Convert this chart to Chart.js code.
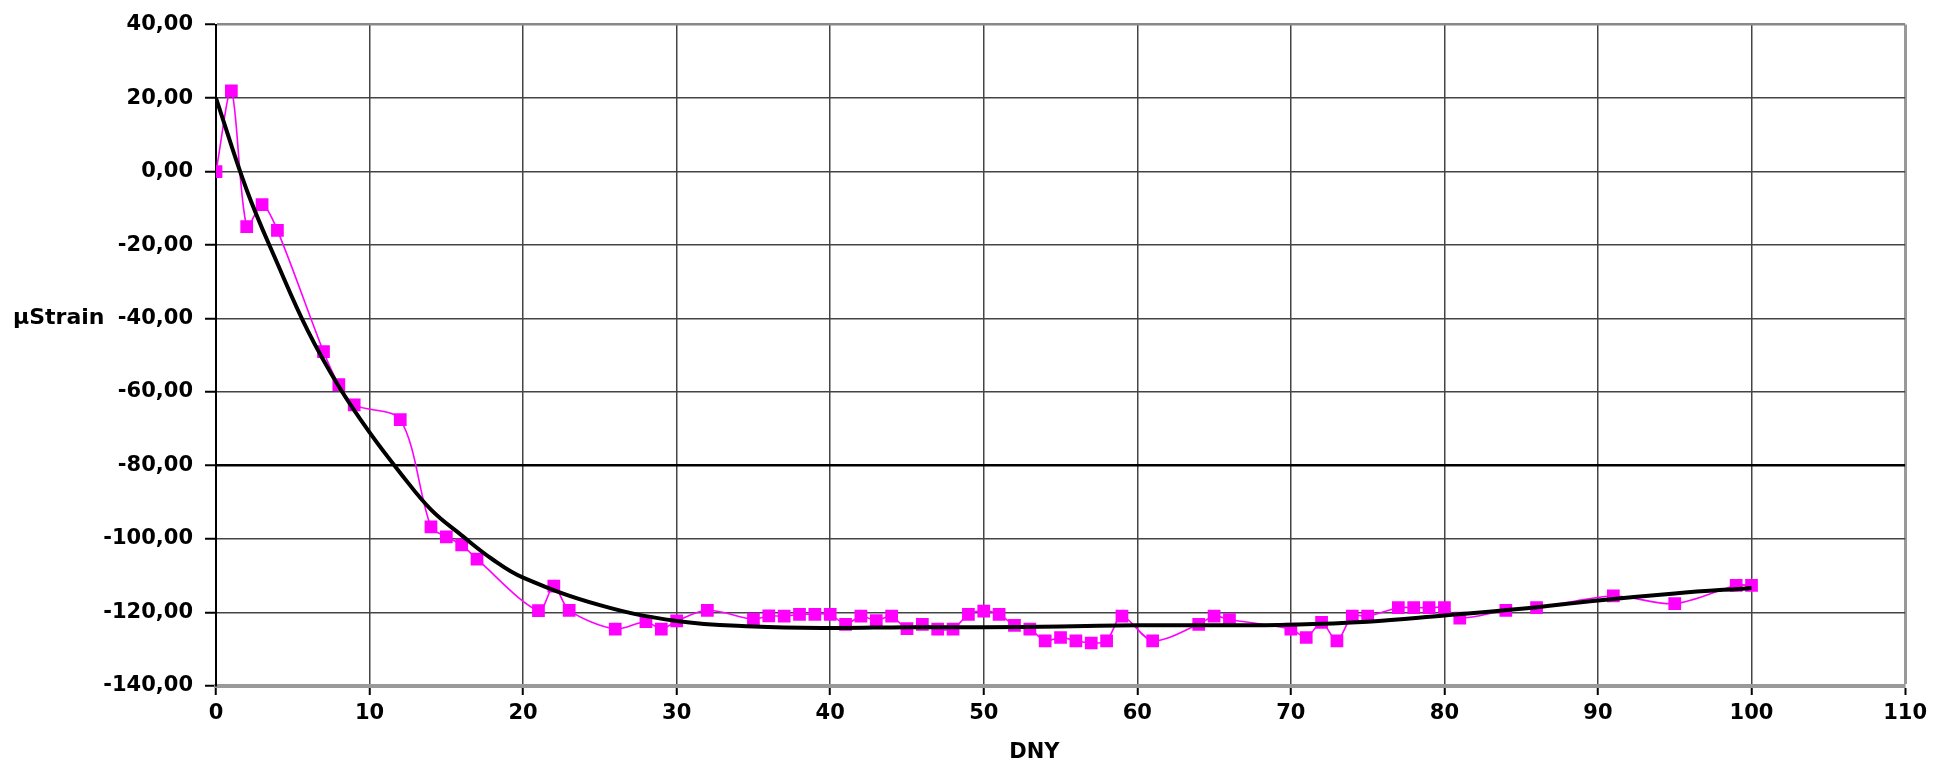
<!DOCTYPE html>
<html>
<head>
<meta charset="utf-8">
<script src="https://cdn.jsdelivr.net/npm/chart.js@4"></script>
<style>
  html, body { margin: 0; padding: 0; background: #fff; }
  #wrap { width: 1933px; height: 763px; }
</style>
</head>
<body>
<div id="wrap"><canvas id="grafico"></canvas></div>
<script>
const dny = [0,1,2,3,4,7,8,9,12,14,15,16,17,21,22,23,26,28,29,30,32,35,36,37,38,39,40,41,42,43,44,45,46,47,48,49,50,51,52,53,54,55,56,57,58,59,61,64,65,66,70,71,72,73,74,75,77,78,79,80,81,84,86,91,95,99,100];
const strain = [0,22,-15,-9,-16,-49,-58,-63.5,-67.5,-96.7,-99.4,-101.6,-105.5,-119.5,-112.8,-119.4,-124.5,-122.5,-124.5,-122.3,-119.4,-121.8,-120.9,-121,-120.5,-120.5,-120.5,-123.2,-121,-122.2,-121,-124.4,-123.2,-124.5,-124.5,-120.5,-119.6,-120.5,-123.5,-124.5,-127.7,-126.8,-127.7,-128.3,-127.7,-121,-127.7,-123.2,-121,-121.9,-124.5,-126.8,-122.7,-127.7,-121,-121,-118.7,-118.7,-118.7,-118.7,-121.5,-119.4,-118.7,-115.5,-117.6,-112.6,-112.6];

// linea de tendencia (leida punto a punto)
const trendX = [0,2,4,6,8,10,12,14,16,18,20,25,30,35,40,45,50,55,60,65,70,75,80,85,90,95,100];
const trendY = [20,-5,-25,-43.5,-58.5,-71,-82,-92,-99,-105.5,-110.5,-118,-122.3,-123.8,-124.2,-124,-124,-123.8,-123.5,-123.5,-123.3,-122.5,-120.8,-119,-116.7,-114.8,-113.3];

const fuente = { family: 'DejaVu Sans', size: 21, weight: 'bold' };

const medidos = dny.map((x, i) => ({ x: x, y: strain[i] }));
const tendencia = trendX.map((x, i) => ({ x: x, y: trendY[i] }));

// titulos de los ejes, dibujados a mano como en el original
const titulos = {
  id: 'titulos',
  afterDraw(chart) {
    const c = chart.ctx;
    c.save();
    c.font = 'bold 22px "DejaVu Sans"';
    c.fillStyle = '#000';
    c.textBaseline = 'middle';
    c.textAlign = 'left';
    c.fillText('µStrain', 13, chart.scales.y.getPixelForValue(-40));
    c.textAlign = 'center';
    c.font = 'bold 21px "DejaVu Sans"';
    c.fillText('DNY', chart.scales.x.getPixelForValue(53.3), 753);
    c.restore();
  }
};

new Chart(document.getElementById('grafico'), {
  type: 'scatter',
  data: {
    datasets: [{
      label: 'tendencia',
      data: tendencia,
      showLine: true,
      borderColor: '#000',
      borderWidth: 4,
      pointRadius: 0,
      tension: 0.4,
      order: 0
    }, {
      label: 'µStrain',
      data: medidos,
      showLine: true,
      borderColor: '#ff00ff',
      backgroundColor: '#ff00ff',
      borderWidth: 1.6,
      pointStyle: 'rect',
      pointRadius: 9,
      pointBorderWidth: 0,
      tension: 0.3,
      order: 1
    }]
  },
  options: {
    responsive: true,
    maintainAspectRatio: false,
    animation: false,
    layout: { padding: { left: 0, right: 26, top: 21, bottom: 0 } },
    plugins: { legend: { display: false }, tooltip: { enabled: false } },
    scales: {
      x: {
        type: 'linear',
        min: 0, max: 110,
        afterFit(s) { s.height = 77; },
        ticks: { stepSize: 10, color: '#000', font: fuente, padding: 6, maxRotation: 0 },
        grid: {
          color: ctx => ctx.tick && ctx.tick.value === 110 ? '#999' : '#444',
          lineWidth: ctx => ctx.tick && ctx.tick.value === 110 ? 3 : 1.5,
          tickLength: 9,
          tickColor: '#000',
          tickWidth: 2
        },
        border: { display: true, color: '#999', width: 4 }
      },
      y: {
        min: -140, max: 40,
        afterFit(s) { s.width = 216; },
        ticks: {
          stepSize: 20, color: '#000', font: fuente, padding: 12,
          callback: v => v.toFixed(2).replace('.', ',')
        },
        grid: {
          color: ctx => {
            if (!ctx.tick) return '#444';
            if (ctx.tick.value === -80) return '#000';
            if (ctx.tick.value === 40) return '#888';
            return '#444';
          },
          lineWidth: ctx => ctx.tick && ctx.tick.value === -80 ? 2.5 : (ctx.tick && ctx.tick.value === 40 ? 2.5 : 1.5),
          tickLength: 11,
          tickColor: '#000',
          tickWidth: 2
        },
        border: { display: true, color: '#000', width: 2 }
      }
    }
  },
  plugins: [titulos]
});
</script>
</body>
</html>
